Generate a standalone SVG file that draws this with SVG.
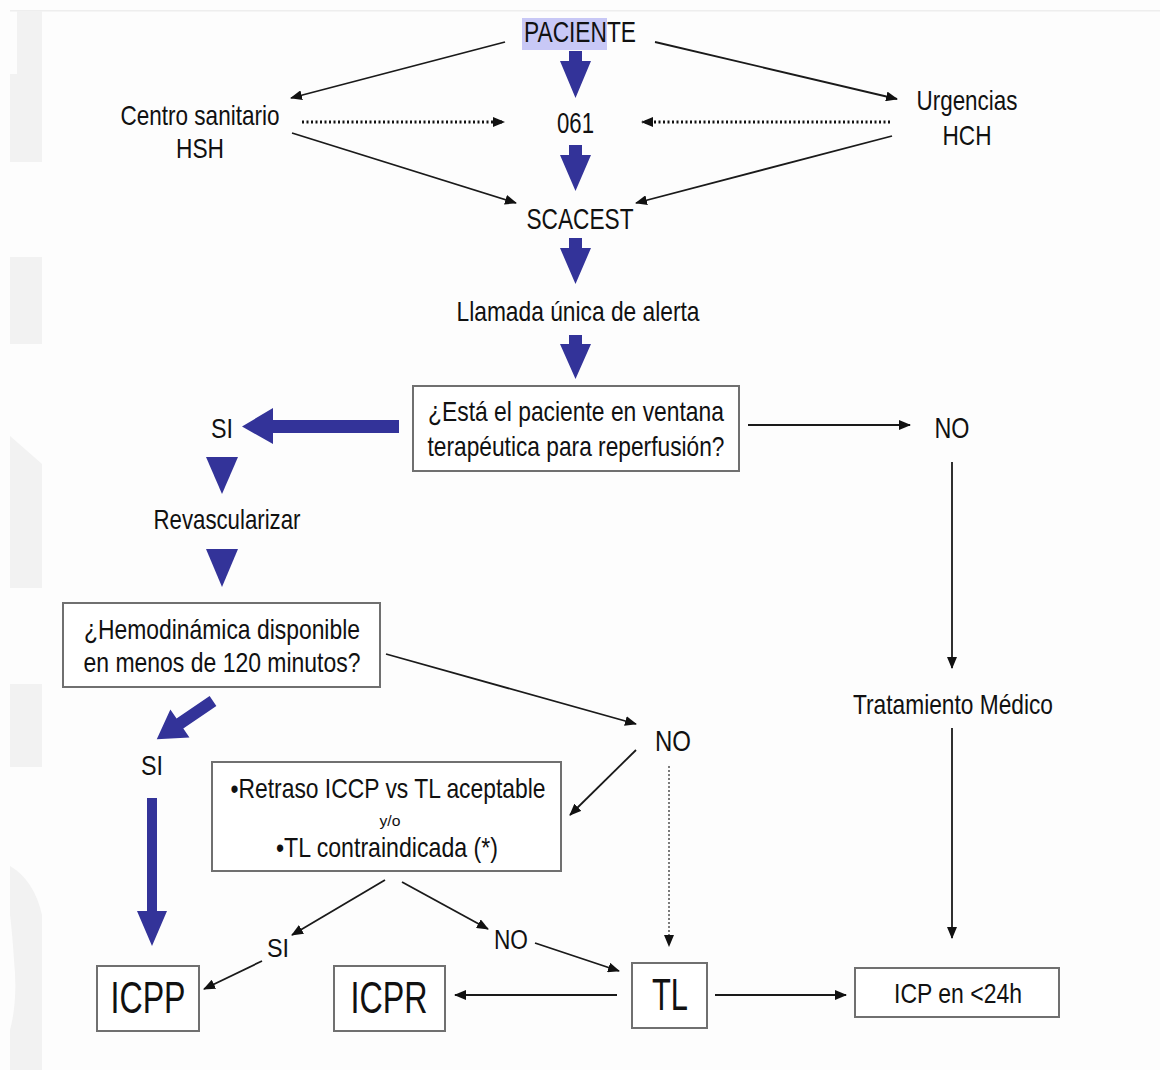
<svg xmlns="http://www.w3.org/2000/svg" width="1160" height="1070" viewBox="0 0 1160 1070">
<defs>
<style>
.t{font-family:"Liberation Sans Narrow","Liberation Sans",Arial,sans-serif;fill:#111;text-anchor:middle}
.ln{stroke:#1a1a1a;stroke-width:1.8;fill:none}
.dot{stroke:#111;stroke-width:3;stroke-dasharray:2 2.5;fill:none}
.gd{stroke:#444;stroke-width:1.4;stroke-dasharray:2 2;fill:none}
.bx{fill:#fff;stroke:#707070;stroke-width:2}
.bl{fill:#333399}
.bg{fill:#f2f2f2}
</style>
<marker id="ah" viewBox="0 0 12 10" refX="11" refY="5" markerWidth="12" markerHeight="10" markerUnits="userSpaceOnUse" orient="auto">
<path d="M0,0 L12,5 L0,10 z" fill="#111"/>
</marker>
</defs>
<rect x="0" y="0" width="1160" height="1070" fill="#fdfdfd"/>
<g id="background">
<rect x="10" y="10" width="1150" height="1.5" fill="#eeeeee"/>
<rect class="bg" x="17" y="11" width="25" height="63"/>
<rect class="bg" x="10" y="74" width="32" height="88"/>
<rect class="bg" x="10" y="257" width="32" height="87"/>
<path class="bg" d="M10,436 L42,464 L42,588 L10,588 z"/>
<rect class="bg" x="10" y="684" width="32" height="83"/>
<path class="bg" d="M10,866 Q34,880 42,915 L42,1070 L10,1070 L10,1030 Q18,1000 14,960 Q12,930 10,915 z"/>
</g>
<g id="connectors">
<line class="ln" x1="505" y1="42" x2="291" y2="98" marker-end="url(#ah)"/>
<line class="ln" x1="655" y1="42" x2="897" y2="99" marker-end="url(#ah)"/>
<line class="dot" x1="302" y1="122" x2="504" y2="122" marker-end="url(#ah)"/>
<line class="dot" x1="890" y1="122" x2="642" y2="122" marker-end="url(#ah)"/>
<line class="ln" x1="292" y1="133" x2="516" y2="203" marker-end="url(#ah)"/>
<line class="ln" x1="892" y1="136" x2="636" y2="203" marker-end="url(#ah)"/>
<polygon class="bl" points="569,51 582,51 582,61 591,61 575.5,98 560,61 569,61"/>
<polygon class="bl" points="569,145 582,145 582,155 591,155 575.5,191 560,155 569,155"/>
<polygon class="bl" points="569,238 582,238 582,248 591,248 575.5,284 560,248 569,248"/>
<polygon class="bl" points="569,335 582,335 582,344 591,344 575.5,379 560,344 569,344"/>
<polygon class="bl" points="399,420 399,433 273,433 273,444 242,426.5 273,408 273,420"/>
<polygon class="bl" points="206,457 238,457 222,494"/>
<polygon class="bl" points="206,549 238,549 222,587"/>
<line class="ln" x1="748" y1="425" x2="910" y2="425" marker-end="url(#ah)"/>
<line class="ln" x1="952" y1="462" x2="952" y2="668" marker-end="url(#ah)"/>
<line class="ln" x1="952" y1="728" x2="952" y2="938" marker-end="url(#ah)"/>
<line class="ln" x1="386" y1="654" x2="636" y2="724" marker-end="url(#ah)"/>
<line class="ln" x1="636" y1="750" x2="570" y2="815" marker-end="url(#ah)"/>
<line class="gd" x1="669" y1="766" x2="669" y2="946" marker-end="url(#ah)"/>
<g transform="translate(213,701) rotate(145.8)">
<polygon class="bl" points="0,-6 40,-6 40,-17 68,0 40,17 40,6 0,6"/>
</g>
<polygon class="bl" points="147,798 157,798 157,911 167,911 152,946 137,911 147,911"/>
<line class="ln" x1="385" y1="880" x2="292" y2="935" marker-end="url(#ah)"/>
<line class="ln" x1="262" y1="961" x2="204" y2="989" marker-end="url(#ah)"/>
<line class="ln" x1="402" y1="882" x2="488" y2="929" marker-end="url(#ah)"/>
<line class="ln" x1="535" y1="943" x2="619" y2="971" marker-end="url(#ah)"/>
<line class="ln" x1="617" y1="995" x2="455" y2="995" marker-end="url(#ah)"/>
<line class="ln" x1="715" y1="995" x2="846" y2="995" marker-end="url(#ah)"/>
</g>
<g id="paciente">
<rect x="522" y="18" width="85" height="32" fill="#c8c8f6"/>
<text class="t" x="580" y="42" font-size="29" textLength="112" lengthAdjust="spacingAndGlyphs">PACIENTE</text>
</g>
<g id="centro">
<text class="t" x="200" y="125" font-size="28" textLength="159" lengthAdjust="spacingAndGlyphs">Centro sanitario</text>
<text class="t" x="200" y="158" font-size="28" textLength="48" lengthAdjust="spacingAndGlyphs">HSH</text>
</g>
<g id="n061">
<text class="t" x="575.5" y="133" font-size="29" textLength="37" lengthAdjust="spacingAndGlyphs">061</text>
</g>
<g id="urgencias">
<text class="t" x="967" y="110" font-size="28" textLength="101" lengthAdjust="spacingAndGlyphs">Urgencias</text>
<text class="t" x="967" y="145" font-size="28" textLength="49" lengthAdjust="spacingAndGlyphs">HCH</text>
</g>
<g id="scacest">
<text class="t" x="580" y="229" font-size="29" textLength="107" lengthAdjust="spacingAndGlyphs">SCACEST</text>
</g>
<g id="llamada">
<text class="t" x="578" y="321" font-size="28" textLength="243" lengthAdjust="spacingAndGlyphs">Llamada única de alerta</text>
</g>
<g id="ventana">
<rect class="bx" x="413" y="386" width="326" height="85"/>
<text class="t" x="576" y="421" font-size="28" textLength="296" lengthAdjust="spacingAndGlyphs">¿Está el paciente en ventana</text>
<text class="t" x="576" y="456" font-size="28" textLength="297" lengthAdjust="spacingAndGlyphs">terapéutica para reperfusión?</text>
</g>
<g id="si1">
<text class="t" x="222" y="438" font-size="28" textLength="22" lengthAdjust="spacingAndGlyphs">SI</text>
</g>
<g id="no1">
<text class="t" x="952" y="438" font-size="29" textLength="35" lengthAdjust="spacingAndGlyphs">NO</text>
</g>
<g id="revascularizar">
<text class="t" x="227" y="529" font-size="28" textLength="147" lengthAdjust="spacingAndGlyphs">Revascularizar</text>
</g>
<g id="hemodinamica">
<rect class="bx" x="63" y="603" width="317" height="84"/>
<text class="t" x="222" y="639" font-size="28" textLength="276" lengthAdjust="spacingAndGlyphs">¿Hemodinámica disponible</text>
<text class="t" x="222" y="672" font-size="28" textLength="277" lengthAdjust="spacingAndGlyphs">en menos de 120 minutos?</text>
</g>
<g id="tratamiento">
<text class="t" x="953" y="714" font-size="28" textLength="200" lengthAdjust="spacingAndGlyphs">Tratamiento Médico</text>
</g>
<g id="no2">
<text class="t" x="673" y="751" font-size="29" textLength="36" lengthAdjust="spacingAndGlyphs">NO</text>
</g>
<g id="si2">
<text class="t" x="152" y="775" font-size="27" textLength="22" lengthAdjust="spacingAndGlyphs">SI</text>
</g>
<g id="retraso">
<rect class="bx" x="212" y="762" width="349" height="109"/>
<text class="t" x="388" y="798" font-size="28" textLength="315" lengthAdjust="spacingAndGlyphs">•Retraso ICCP vs TL aceptable</text>
<text class="t" x="390" y="826" font-size="15" textLength="21" lengthAdjust="spacingAndGlyphs">y/o</text>
<text class="t" x="387" y="857" font-size="28" textLength="222" lengthAdjust="spacingAndGlyphs">•TL contraindicada (*)</text>
</g>
<g id="si3">
<text class="t" x="278" y="957" font-size="26" textLength="22" lengthAdjust="spacingAndGlyphs">SI</text>
</g>
<g id="no3">
<text class="t" x="511" y="949" font-size="27" textLength="34" lengthAdjust="spacingAndGlyphs">NO</text>
</g>
<g id="icpp">
<rect class="bx" x="97" y="966" width="102" height="65"/>
<text class="t" x="148" y="1013" font-size="44" textLength="75" lengthAdjust="spacingAndGlyphs">ICPP</text>
</g>
<g id="icpr">
<rect class="bx" x="334" y="966" width="111" height="65"/>
<text class="t" x="389" y="1013" font-size="44" textLength="77" lengthAdjust="spacingAndGlyphs">ICPR</text>
</g>
<g id="tl">
<rect class="bx" x="632" y="963" width="75" height="65"/>
<text class="t" x="670" y="1010" font-size="44" textLength="36" lengthAdjust="spacingAndGlyphs">TL</text>
</g>
<g id="icp24">
<rect class="bx" x="855" y="968" width="204" height="49"/>
<text class="t" x="958" y="1003" font-size="28" textLength="128" lengthAdjust="spacingAndGlyphs">ICP en &lt;24h</text>
</g>
</svg>
